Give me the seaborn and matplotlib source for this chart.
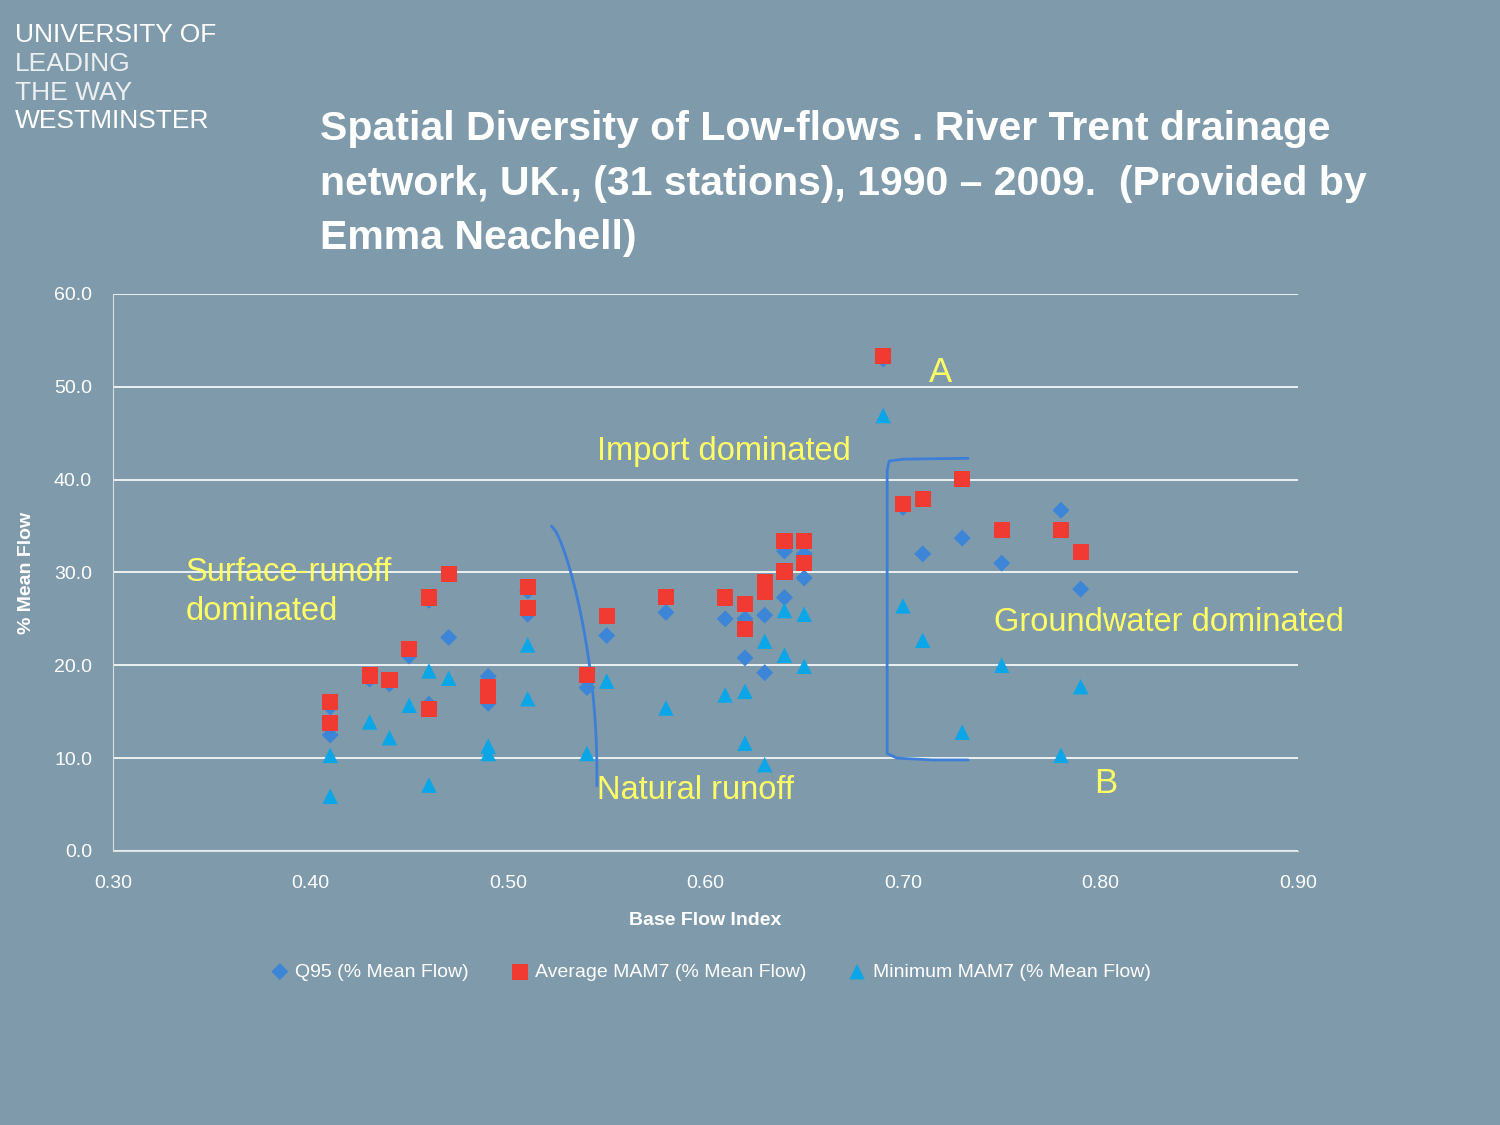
import matplotlib
matplotlib.use("Agg")
import matplotlib.pyplot as plt
import numpy as np
import pandas as pd
import seaborn as sns

# Base Flow Index per station (31 stations)
bfi = [0.41, 0.41, 0.43, 0.44, 0.45, 0.46, 0.46, 0.47, 0.49, 0.49, 0.51, 0.51,
       0.54, 0.55, 0.58, 0.61, 0.62, 0.62, 0.63, 0.63, 0.64, 0.64, 0.65, 0.65,
       0.69, 0.70, 0.71, 0.73, 0.75, 0.78, 0.79]
q95 = [15.5, 12.5, 18.5, 18.0, 21.0, 27.0, 15.8, 23.0, 18.8, 15.9, 28.0, 25.5,
       17.6, 23.2, 25.7, 25.0, 25.0, 20.8, 25.4, 19.2, 32.3, 27.3, 32.0, 29.4,
       53.0, 37.0, 32.0, 33.7, 31.0, 36.7, 28.2]
avg_mam7 = [16.0, 13.8, 18.9, 18.4, 21.8, 27.3, 15.3, 29.8, 17.6, 16.7, 28.4, 26.2,
            19.0, 25.3, 27.4, 27.3, 26.6, 23.9, 29.0, 27.9, 33.4, 30.1, 33.4, 31.0,
            53.3, 37.4, 37.9, 40.1, 34.6, 34.6, 32.2]
min_mam7 = [10.3, 5.9, 13.9, 12.2, 15.7, 19.4, 7.1, 18.6, 11.3, 10.5, 22.2, 16.4,
            10.5, 18.3, 15.4, 16.8, 17.2, 11.6, 22.6, 9.3, 25.9, 21.1, 25.5, 19.9,
            46.9, 26.4, 22.7, 12.8, 20.0, 10.3, 17.7]

series_names = ["Q95 (% Mean Flow)", "Average MAM7 (% Mean Flow)", "Minimum MAM7 (% Mean Flow)"]
series_values = [q95, avg_mam7, min_mam7]
colors = ["#3d85d6", "#f03a32", "#0aa6e8"]
markers = ["D", "s", "^"]
sizes = [75, 135, 125]

BG = "#7f9bab"
YELLOW = "#ffff66"

sns.set_style("white")
plt.rcParams["font.family"] = ["Liberation Sans", "DejaVu Sans"]

fig = plt.figure(figsize=(15, 11.25), dpi=100, facecolor=BG)
ax = fig.add_axes([0.0753, 0.2436, 0.79, 0.4951], facecolor=BG)

for name, vals, col, mk, sz in zip(series_names, series_values, colors, markers, sizes):
    sns.scatterplot(x=bfi, y=vals, color=col, marker=mk, s=sz, edgecolor="none",
                    ax=ax, label=name, zorder=3)

ax.set_xlim(0.30, 0.90)
ax.set_ylim(0, 60)
ax.set_xticks(np.arange(0.30, 0.91, 0.10))
ax.set_yticks(np.arange(0, 61, 10))
ax.xaxis.set_major_formatter(matplotlib.ticker.FormatStrFormatter("%.2f"))
ax.yaxis.set_major_formatter(matplotlib.ticker.FormatStrFormatter("%.1f"))
ax.grid(axis="y", color="white", lw=1.2)
ax.set_axisbelow(True)
for side in ["top", "right"]:
    ax.spines[side].set_visible(False)
for side in ["left", "bottom"]:
    ax.spines[side].set_color("#d8dde0")
ax.tick_params(axis="both", colors="white", labelsize=14, direction="out", length=5, width=1)
ax.tick_params(axis="both", color="#d8dde0")
ax.tick_params(axis="x", pad=12)
ax.tick_params(axis="y", pad=10)
ax.set_xlabel("Base Flow Index", fontsize=14, fontweight="bold", color="white", labelpad=15)
ax.set_ylabel("% Mean Flow", fontsize=14, fontweight="bold", color="white", labelpad=14)

leg = ax.legend(loc="upper center", bbox_to_anchor=(0.5, -0.17), ncol=3, frameon=False,
                fontsize=14, handletextpad=-0.2, columnspacing=1.6, markerscale=1.0)
for t in leg.get_texts():
    t.set_color("white")

# hand-drawn divider and bracket
t = np.linspace(0, 1, 50)
ax.plot(0.522 + 0.025 * np.sin(t * np.pi / 2) ** 0.7 - 0.002 * t, 35 - 28 * t, color="#3d7fd6", lw=2)
ax.plot([0.733, 0.700, 0.693, 0.692, 0.692, 0.697, 0.715, 0.733],
        [42.3, 42.2, 42.0, 41.0, 10.5, 10.0, 9.8, 9.8], color="#3d7fd6", lw=2)

# region labels
ax.text(0.337, 27.9, "Surface-runoff\ndominated", color=YELLOW, fontsize=23.5, va="center", linespacing=1.3)
ax.text(0.545, 43.0, "Import dominated", color=YELLOW, fontsize=23.5, va="center")
ax.text(0.545, 6.5, "Natural runoff", color=YELLOW, fontsize=23.5, va="center")
ax.text(0.746, 24.6, "Groundwater dominated", color=YELLOW, fontsize=23.5, va="center")
ax.text(0.713, 51.5, "A", color=YELLOW, fontsize=25, va="center")
ax.text(0.797, 7.3, "B", color=YELLOW, fontsize=25, va="center")

# title
fig.text(0.213, 0.902, "Spatial Diversity of Low-flows . River Trent drainage\n"
         "network, UK., (31 stations), 1990 \u2013 2009.  (Provided by\nEmma Neachell)",
         color="white", fontsize=29.5, fontweight="bold", va="top", linespacing=1.55)

# logo
fig.text(0.010, 0.969, "UNIVERSITY OF", color="white", fontsize=19, va="center")
fig.text(0.010, 0.943, "LEADING", color="white", fontsize=19, va="center", alpha=0.85)
fig.text(0.010, 0.917, "THE WAY", color="white", fontsize=19, va="center", alpha=0.85)
fig.text(0.010, 0.892, "WESTMINSTER", color="white", fontsize=19, va="center")

fig.savefig("out.png", dpi=100, facecolor=BG)
